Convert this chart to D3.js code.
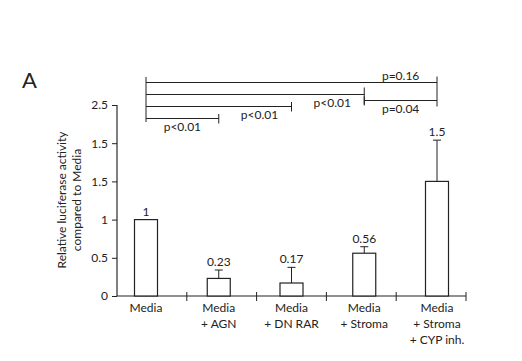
<!DOCTYPE html>
<html>
<head>
<meta charset="utf-8">
<script src="https://cdn.jsdelivr.net/npm/d3@7"></script>
<style>
  body { margin: 0; background: #fff; }
  svg text { font-family: Lato, "Open Sans", sans-serif; fill: #222; }
</style>
</head>
<body>
<div id="chart"></div>
<script>
// data
let groups = ["Media", "Media|+ AGN", "Media|+ DN RAR", "Media|+ Stroma", "Media|+ Stroma|+ CYP inh."];
let values = [1, 0.23, 0.17, 0.56, 1.5];
let errTop = [null, 0.34, 0.375, 0.645, 2.04];
let valueLabels = ["1", "0.23", "0.17", "0.56", "1.5"];
let yTicks = [0, 0.5, 1, 1.5, 2, 2.5];
let yTickLabels = ["0", "0.5", "1", "1.5", "1.5", "2.5"];   // as printed in the figure

// comparisons: [from, to, level (0 = top), label, label position]
let comparisons = [
    [0, 4, 0, "p=0.16", "above"],
    [0, 3, 1, "p<0.01", "belowLeft"],
    [3, 4, 1.5, "p=0.04", "below"],
    [0, 2, 2, "p<0.01", "belowLeft"],
    [0, 1, 3, "p<0.01", "below"]
];

let svg = d3.select('#chart')
    .append('svg')
    .attr('width', 522)
    .attr('height', 361);

let y = d3.scaleLinear().domain([0, 2.5]).range([296, 105]);
let xAxis = d3.scaleBand().domain(d3.range(groups.length)).range([117, 466]);
let x = d3.scalePoint().domain(d3.range(groups.length)).range([146, 437]);
let barW = 23;

// y axis
let yAx = svg.append('g')
    .attr('transform', 'translate(117,0)')
    .call(d3.axisLeft(y).tickValues(yTicks).tickSize(5).tickPadding(4)
        .tickFormat(function (d, i) { return yTickLabels[i]; }));
yAx.select('.domain').attr('d', 'M0,' + y(2.5) + 'V' + y(0));
yAx.selectAll('line').attr('stroke', '#222');
yAx.selectAll('text').attr('font-size', 12).style('font-family', 'Lato, sans-serif');

// x axis line with ticks at band edges
let xg = svg.append('g');
xg.append('line')
    .attr('x1', 117).attr('x2', 466)
    .attr('y1', y(0)).attr('y2', y(0))
    .attr('stroke', '#222');
xg.selectAll('line.tk')
    .data(d3.range(1, groups.length + 1))
    .enter().append('line')
    .attr('class', 'tk')
    .attr('x1', function (d) { return d < groups.length ? xAxis(d) : 466; })
    .attr('x2', function (d) { return d < groups.length ? xAxis(d) : 466; })
    .attr('y1', y(0) - 4).attr('y2', y(0) + 5)
    .attr('stroke', '#222');

// category labels
groups.forEach(function (g, i) {
    let t = svg.append('text')
        .attr('x', x(i))
        .attr('y', 312)
        .attr('text-anchor', 'middle')
        .attr('font-size', 12);
    g.split('|').forEach(function (line, j) {
        t.append('tspan').attr('x', x(i)).attr('dy', j == 0 ? 0 : 16).text(line);
    });
});

// error bars
values.forEach(function (v, i) {
    if (errTop[i] == null) return;
    svg.append('line')
        .attr('x1', x(i)).attr('x2', x(i))
        .attr('y1', y(v)).attr('y2', y(errTop[i]))
        .attr('stroke', '#222');
    svg.append('line')
        .attr('x1', x(i) - 4).attr('x2', x(i) + 4)
        .attr('y1', y(errTop[i])).attr('y2', y(errTop[i]))
        .attr('stroke', '#222');
});

// bars
svg.selectAll('rect.bar')
    .data(values)
    .enter().append('rect')
    .attr('class', 'bar')
    .attr('x', function (d, i) { return x(i) - barW / 2; })
    .attr('y', function (d) { return y(d); })
    .attr('width', barW)
    .attr('height', function (d) { return y(0) - y(d); })
    .attr('fill', '#fff')
    .attr('stroke', '#222')
    .attr('stroke-width', 1.2);

// value labels
values.forEach(function (v, i) {
    let top = errTop[i] == null ? v : errTop[i];
    svg.append('text')
        .attr('x', x(i))
        .attr('y', y(top) - 4)
        .attr('text-anchor', 'middle')
        .attr('font-size', 12)
        .text(valueLabels[i]);
});

// significance brackets
let levelY = function (l) { return 82.5 + l * 12; };
svg.append('line')
    .attr('x1', x(0)).attr('x2', x(0))
    .attr('y1', 77).attr('y2', 122)
    .attr('stroke', '#222');
comparisons.forEach(function (c) {
    let ly = levelY(c[2]);
    let x1 = x(c[0]), x2 = x(c[1]);
    svg.append('line')
        .attr('x1', x1).attr('x2', x2)
        .attr('y1', ly).attr('y2', ly)
        .attr('stroke', '#222');
    let th = c[2] == 0 ? [-6, 24] : (c[2] == 1 ? [-7, 11] : [-4.5, 5]);
    if (c[1] == 4 && c[2] == 1.5) th = [0, 0];
    svg.append('line')
        .attr('x1', x2).attr('x2', x2)
        .attr('y1', ly + th[0]).attr('y2', ly + th[1])
        .attr('stroke', '#222');
    if (c[0] != 0) {
        svg.append('line')
            .attr('x1', x1).attr('x2', x1)
            .attr('y1', ly - 4).attr('y2', ly + 4)
            .attr('stroke', '#222');
    }
    let lx, lyT;
    if (c[4] == 'above') { lx = (x(3) + x(4)) / 2; lyT = ly - 3; }
    else if (c[4] == 'belowLeft') { lx = x2 - 32; lyT = ly + 12; }
    else { lx = (x1 + x2) / 2; lyT = ly + 12; }
    svg.append('text')
        .attr('x', lx).attr('y', lyT)
        .attr('text-anchor', 'middle')
        .attr('font-size', 12)
        .text(c[3]);
});

// y axis title
svg.append('text')
    .attr('transform', 'translate(66,200) rotate(-90)')
    .attr('text-anchor', 'middle')
    .attr('font-size', 12)
    .text('Relative luciferase activity');
svg.append('text')
    .attr('transform', 'translate(81,200) rotate(-90)')
    .attr('text-anchor', 'middle')
    .attr('font-size', 12)
    .text('compared to Media');

// panel letter
svg.append('text')
    .attr('x', 22).attr('y', 88)
    .attr('font-size', 22)
    .text('A');
</script>
</body>
</html>
